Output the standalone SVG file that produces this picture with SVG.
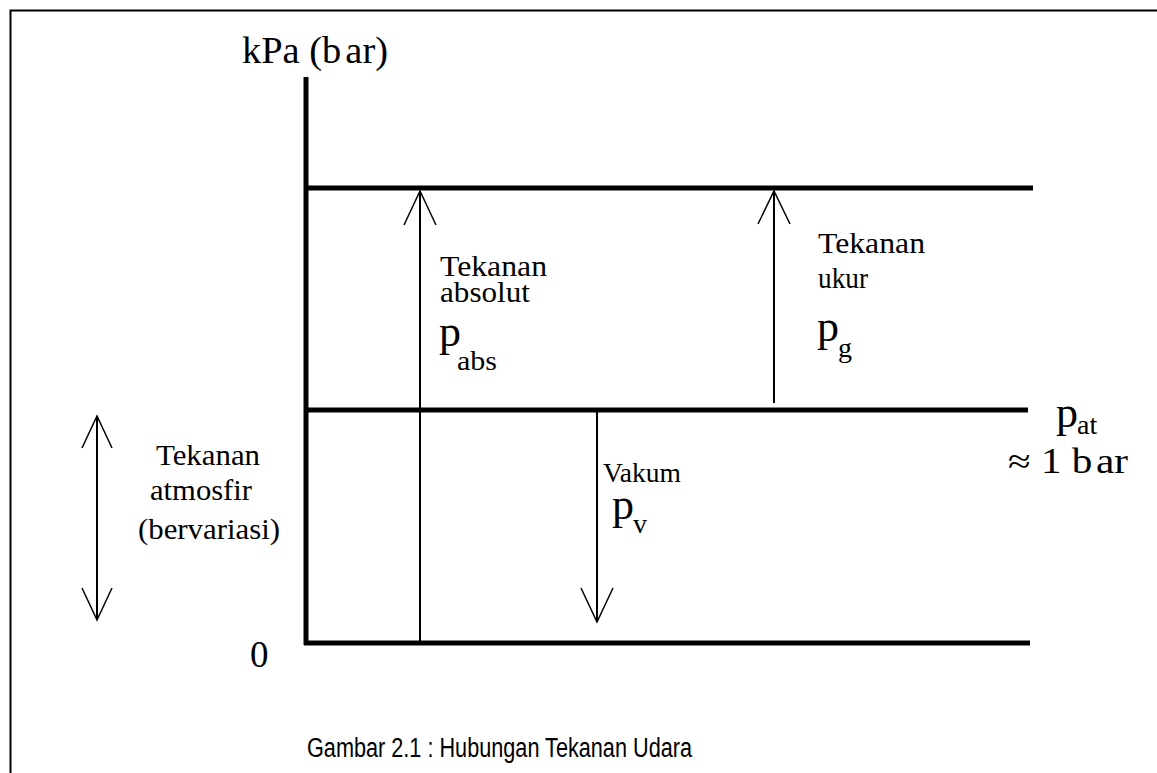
<svg xmlns="http://www.w3.org/2000/svg" width="1157" height="773" viewBox="0 0 1157 773">
<style>
text.serif{font-family:'Liberation Serif','Times New Roman',Tinos,serif;fill:#000}
text.sans{font-family:'Liberation Sans',Arial,Arimo,sans-serif;fill:#000}
.thick{stroke:#000;stroke-width:5;fill:none}
.thin{stroke:#000;stroke-width:2;fill:none}
.head{stroke:#000;stroke-width:1.5;fill:none}
.lbl{font-size:29px}
.p{font-size:44px}
.sub{font-size:28px}
</style>
<rect width="1157" height="773" fill="#fff"/>
<g id="frame"><path d="M10.5 1200 V10.5 H1200" class="thin"/></g>
<g id="axes">
<line x1="306" y1="77" x2="306" y2="645" class="thick"/>
<line x1="304" y1="188" x2="1033" y2="188" class="thick"/>
<line x1="304" y1="410" x2="1028" y2="410" class="thick"/>
<line x1="304" y1="643" x2="1030" y2="643" class="thick"/>
</g>
<g id="connectors">
<g id="arrow-abs"><line x1="420" y1="641" x2="420" y2="191" class="thin"/><polyline points="404,225 420,191 436,225" class="head"/></g>
<g id="arrow-gauge"><line x1="774" y1="403" x2="774" y2="191" class="thin"/><polyline points="758,224 774,191 790,224" class="head"/></g>
<g id="arrow-vacuum"><line x1="597" y1="412" x2="597" y2="622" class="thin"/><polyline points="581,588 597,622 613,588" class="head"/></g>
<g id="arrow-atm"><line x1="97" y1="416" x2="97" y2="620" class="thin"/><polyline points="82,448 97,416 112,448" class="head"/><polyline points="82,588 97,620 112,588" class="head"/></g>
</g>
<g id="label-axis"><text class="serif" x="242" y="63" font-size="37" textLength="146" lengthAdjust="spacingAndGlyphs">kPa (b<tspan dx="4">ar)</tspan></text></g>
<g id="label-abs">
<text class="serif lbl" x="440" y="276" textLength="107" lengthAdjust="spacingAndGlyphs">Tekanan</text>
<text class="serif lbl" x="440" y="302" textLength="90" lengthAdjust="spacingAndGlyphs">absolut</text>
<text class="serif p" x="439" y="346">p</text>
<text class="serif sub" x="457" y="370" textLength="40" lengthAdjust="spacingAndGlyphs">abs</text>
</g>
<g id="label-gauge">
<text class="serif lbl" x="818" y="253" textLength="107" lengthAdjust="spacingAndGlyphs">Tekanan</text>
<text class="serif lbl" x="818" y="288" textLength="50" lengthAdjust="spacingAndGlyphs">ukur</text>
<text class="serif p" x="817" y="341">p</text>
<text class="serif sub" x="838" y="357">g</text>
</g>
<g id="label-atm">
<text class="serif p" x="1056" y="427">p</text>
<text class="serif sub" x="1077" y="434">at</text>
<text class="serif" x="1008" y="473" font-size="35" textLength="120" lengthAdjust="spacingAndGlyphs">≈ 1 b<tspan dx="3">ar</tspan></text>
</g>
<g id="label-vacuum">
<text class="serif" x="603" y="482" font-size="27" textLength="78" lengthAdjust="spacingAndGlyphs">Vakum</text>
<text class="serif p" x="612" y="519">p</text>
<text class="serif sub" x="633" y="533">v</text>
</g>
<g id="label-atmosfir">
<text class="serif lbl" x="156" y="465" textLength="104" lengthAdjust="spacingAndGlyphs">Tekanan</text>
<text class="serif lbl" x="150" y="500" textLength="102" lengthAdjust="spacingAndGlyphs">atmosfir</text>
<text class="serif lbl" x="138" y="539" textLength="142" lengthAdjust="spacingAndGlyphs">(bervariasi)</text>
</g>
<g id="label-zero"><text class="serif" x="250" y="667" font-size="37">0</text></g>
<g id="caption"><text class="sans" x="307" y="757" font-size="27" textLength="385" lengthAdjust="spacingAndGlyphs">Gambar 2.1 : Hubungan Tekanan Udara</text></g>
</svg>
